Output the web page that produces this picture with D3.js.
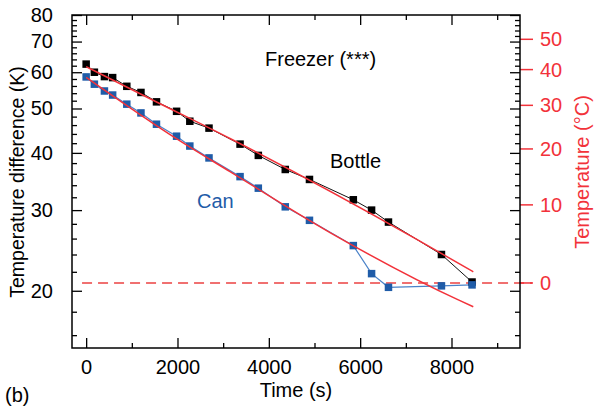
<!DOCTYPE html>
<html>
<head>
<meta charset="utf-8">
<script src="https://cdn.jsdelivr.net/npm/d3@7"></script>
<style>
  html, body { margin: 0; padding: 0; background: #fff; }
  svg { display: block; font-family: "Liberation Sans", Arial, Helvetica, sans-serif; }
</style>
</head>
<body>
<svg id="chart" width="594" height="409"></svg>
<script>
// ---- data ----
const times = [0, 180, 400, 580, 890, 1200, 1540, 1980, 2270, 2690, 3370, 3770, 4360, 4890, 5850, 6250, 6620, 7780, 8450];
const bottleValues = [62.5, 60.0, 58.7, 58.4, 55.9, 54.2, 51.7, 49.3, 46.9, 45.3, 41.8, 39.5, 36.8, 35.0, 31.6, 30.0, 28.25, 24.0, 20.9];
const canValues = [58.6, 56.5, 54.6, 53.5, 51.1, 48.9, 46.2, 43.5, 41.4, 39.0, 35.5, 33.5, 30.5, 28.5, 25.1, 21.8, 20.35, 20.5, 20.6];
// fitted curves
const bottleFitTimes = [0, 1520, 3150, 7240, 8477];
const bottleFitValues = [61.7, 51.8, 43.0, 25.9, 22.0];
const canFitTimes = [0, 2020, 3150, 5340, 8150, 8477];
const canFitValues = [58.5, 42.7, 36.4, 26.8, 19.1, 18.46];
// freezer temperature offset: T(°C) = diff - offset
const freezerOffset = 20.8;
const xTicks = [0, 2000, 4000, 6000, 8000];
const xMinorTicks = [1000, 3000, 5000, 7000, 9000];
const yMajorTicks = [20, 30, 40, 50, 60, 70, 80];
const yMinorTicks = [16, 18, 22, 24, 26, 28, 32, 34, 36, 38, 42, 44, 46, 48, 52, 54, 56, 58, 62, 64, 66, 68, 72, 74, 76, 78];
const celsiusTicks = [0, 10, 20, 30, 40, 50];

// ---- layout ----
const L = 72, R = 520, T = 15, B = 348;
const FS = 20;
const svg = d3.select("#chart");
const x = d3.scaleLinear().domain([-310, 9500]).range([L, R]);
const y = d3.scaleLog().domain([15, 80]).range([B, T]);

const RED = "#f2323a";
const BLUE = "#1f5ca8";
const BLUE_LINE = "#4a82c8";

// zero-degree dashed line
svg.append("line")
  .attr("x1", x(-90)).attr("x2", 532)
  .attr("y1", y(0 + freezerOffset)).attr("y2", y(0 + freezerOffset))
  .attr("stroke", "#f07070").attr("stroke-width", 2)
  .attr("stroke-dasharray", "10,6");

// connecting lines
const lineGen = d3.line().x(d => x(d[0])).y(d => y(d[1]));
svg.append("path").datum(times.map((t, i) => [t, bottleValues[i]]))
  .attr("d", lineGen).attr("fill", "none").attr("stroke", "#111").attr("stroke-width", 1);
svg.append("path").datum(times.map((t, i) => [t, canValues[i]]))
  .attr("d", lineGen).attr("fill", "none").attr("stroke", BLUE_LINE).attr("stroke-width", 1.2);

// squares
const S = 7.5;
svg.append("g").selectAll("rect").data(times.map((t, i) => [t, bottleValues[i]])).join("rect")
  .attr("x", d => x(d[0]) - S / 2).attr("y", d => y(d[1]) - S / 2)
  .attr("width", S).attr("height", S).attr("fill", "#000");
svg.append("g").selectAll("rect").data(times.map((t, i) => [t, canValues[i]])).join("rect")
  .attr("x", d => x(d[0]) - S / 2).attr("y", d => y(d[1]) - S / 2)
  .attr("width", S).attr("height", S).attr("fill", BLUE);

// fit curves
const fitGen = d3.line().x(d => x(d[0])).y(d => y(d[1])).curve(d3.curveMonotoneX);
svg.append("path").datum(bottleFitTimes.map((t, i) => [t, bottleFitValues[i]]))
  .attr("d", fitGen).attr("fill", "none").attr("stroke", RED).attr("stroke-width", 1.5);
svg.append("path").datum(canFitTimes.map((t, i) => [t, canFitValues[i]]))
  .attr("d", fitGen).attr("fill", "none").attr("stroke", RED).attr("stroke-width", 1.5);

// ---- axes ----
const axStyle = g => {
  g.select(".domain").remove();
  g.selectAll(".tick line").attr("stroke", "#000").attr("stroke-width", 1.3);
  g.selectAll(".tick text").attr("font-size", FS).attr("fill", "#000");
};
// bottom
svg.append("g").attr("transform", `translate(0,${B})`)
  .call(d3.axisBottom(x).tickValues(xTicks).tickSizeInner(-10).tickSizeOuter(0).tickPadding(12).tickFormat(d3.format("d")))
  .call(axStyle);
svg.append("g").attr("transform", `translate(0,${B})`)
  .call(d3.axisBottom(x).tickValues(xMinorTicks).tickSizeInner(-5).tickSizeOuter(0).tickFormat(""))
  .call(axStyle);
// top
svg.append("g").attr("transform", `translate(0,${T})`)
  .call(d3.axisTop(x).tickValues(xTicks).tickSizeInner(-10).tickSizeOuter(0).tickFormat(""))
  .call(axStyle);
svg.append("g").attr("transform", `translate(0,${T})`)
  .call(d3.axisTop(x).tickValues(xMinorTicks).tickSizeInner(-5).tickSizeOuter(0).tickFormat(""))
  .call(axStyle);
// left
svg.append("g").attr("transform", `translate(${L},0)`)
  .call(d3.axisLeft(y).tickValues(yMajorTicks).tickSizeInner(-10).tickSizeOuter(0).tickPadding(19).tickFormat(d3.format("d")))
  .call(axStyle);
svg.append("g").attr("transform", `translate(${L},0)`)
  .call(d3.axisLeft(y).tickValues(yMinorTicks).tickSizeInner(-5).tickSizeOuter(0).tickFormat(""))
  .call(axStyle);
// right (black inner ticks)
svg.append("g").attr("transform", `translate(${R},0)`)
  .call(d3.axisRight(y).tickValues(yMajorTicks).tickSizeInner(-10).tickSizeOuter(0).tickFormat(""))
  .call(axStyle);
svg.append("g").attr("transform", `translate(${R},0)`)
  .call(d3.axisRight(y).tickValues(yMinorTicks).tickSizeInner(-5).tickSizeOuter(0).tickFormat(""))
  .call(axStyle);
// right (red celsius)
const yCel = v => y(v + freezerOffset);
const gC = svg.append("g").attr("transform", `translate(${R},0)`);
gC.selectAll("line").data(celsiusTicks).join("line")
  .attr("x1", 0).attr("x2", 13).attr("y1", d => yCel(d)).attr("y2", d => yCel(d))
  .attr("stroke", RED).attr("stroke-width", 1.5);
gC.selectAll("text").data(celsiusTicks).join("text")
  .attr("x", 20).attr("y", d => yCel(d)).attr("dy", "0.35em")
  .attr("font-size", FS).attr("fill", RED).text(d => d);

// frame
svg.append("rect").attr("x", L).attr("y", T).attr("width", R - L).attr("height", B - T)
  .attr("fill", "none").attr("stroke", "#000").attr("stroke-width", 1.5);

// ---- titles & labels ----
svg.append("text").attr("x", (L + R) / 2).attr("y", 397).attr("text-anchor", "middle")
  .attr("font-size", FS).text("Time (s)");
svg.append("text").attr("transform", `translate(24,${182}) rotate(-90)`)
  .attr("text-anchor", "middle").attr("font-size", 19.5).text("Temperature difference (K)");
svg.append("text").attr("transform", `translate(589,${172}) rotate(-90)`)
  .attr("text-anchor", "middle").attr("font-size", FS).attr("fill", RED).text("Temperature (°C)");
svg.append("text").attr("x", 265).attr("y", 66).attr("font-size", FS).text("Freezer (***)");
svg.append("text").attr("x", 330).attr("y", 168).attr("font-size", FS).text("Bottle");
svg.append("text").attr("x", 197).attr("y", 208).attr("font-size", FS).attr("fill", BLUE).text("Can");
svg.append("text").attr("x", 5).attr("y", 402).attr("font-size", FS).text("(b)");
</script>
</body>
</html>
